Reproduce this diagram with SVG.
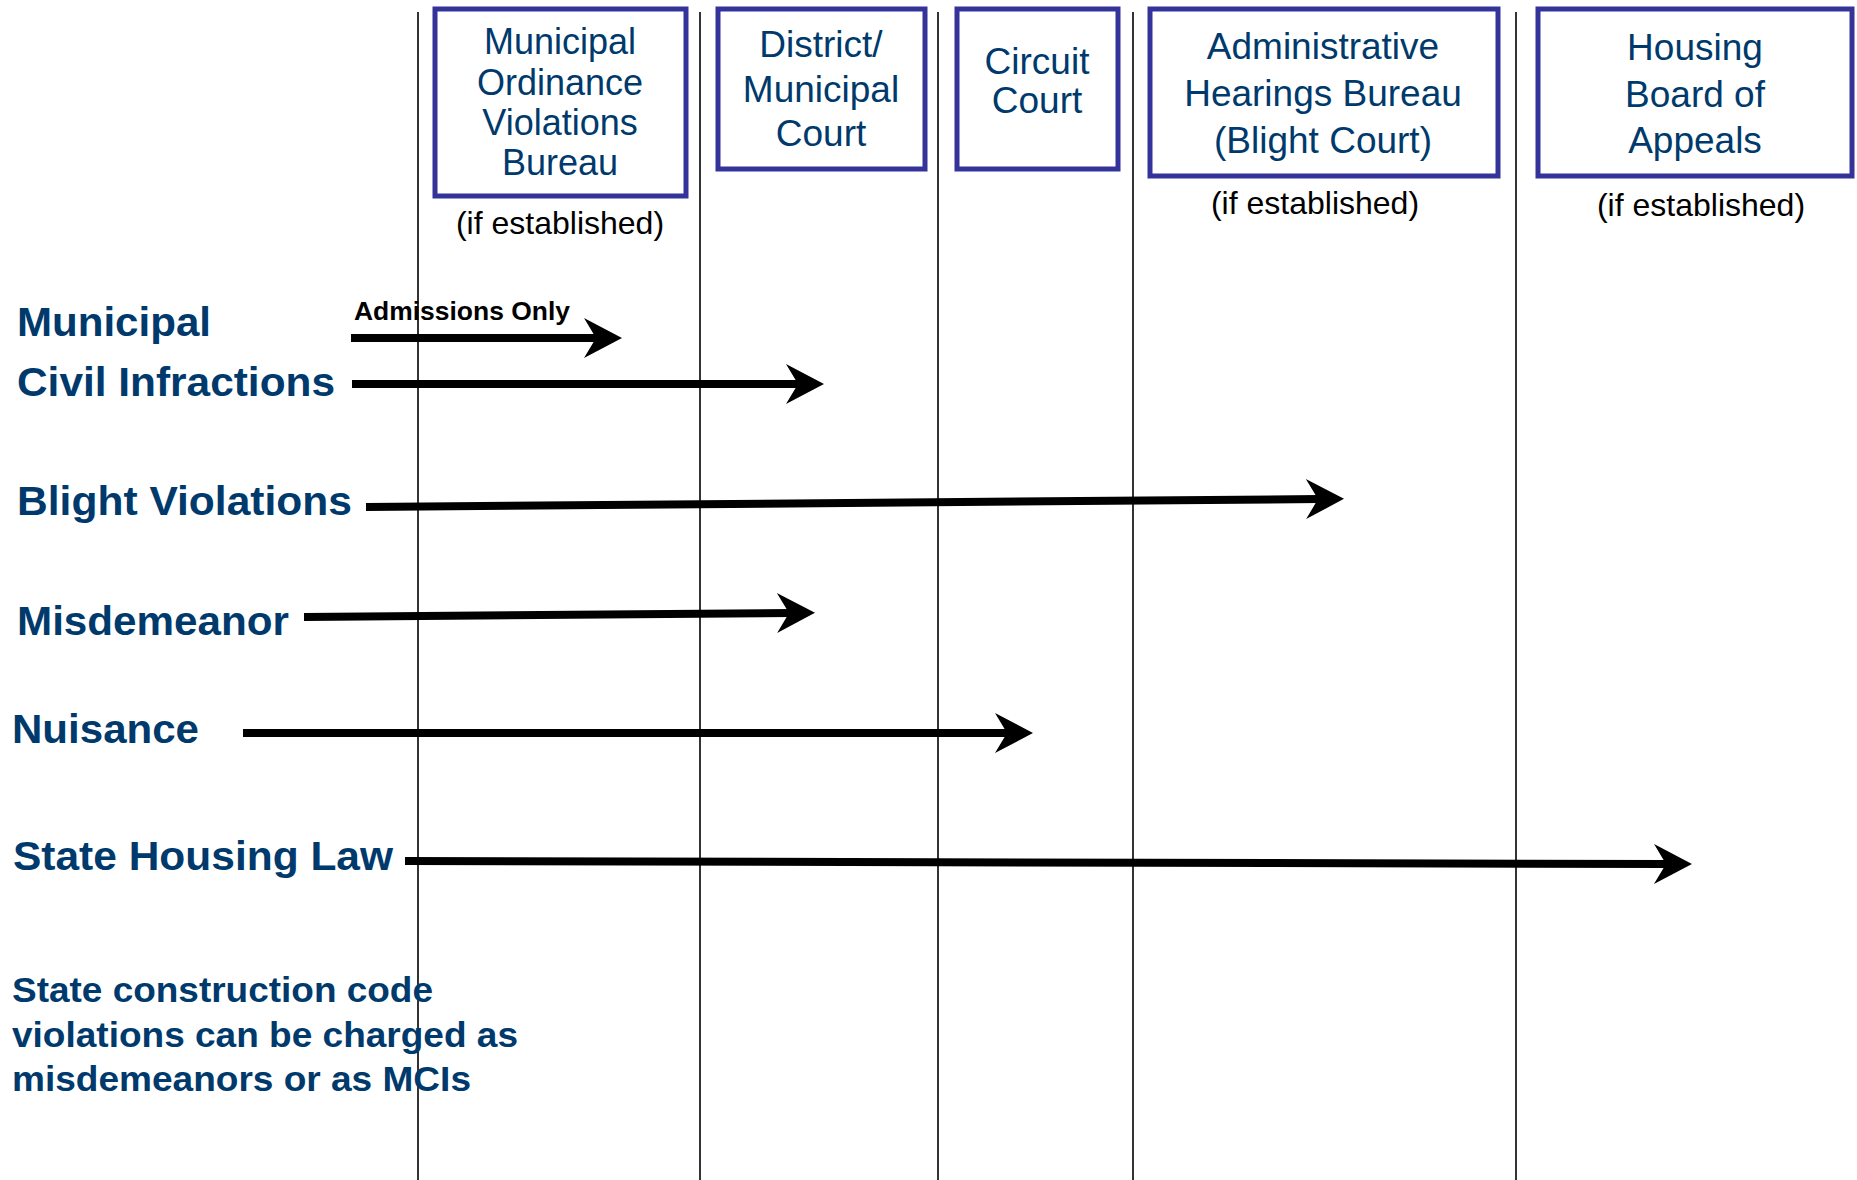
<svg xmlns="http://www.w3.org/2000/svg" width="1857" height="1180" viewBox="0 0 1857 1180">
<style>
.bg{fill:#ffffff}
.col{stroke:#000000;stroke-width:1.6;fill:none}
.box{fill:#ffffff;stroke:#333399;stroke-width:5}
.bt{font-family:"Liberation Sans",Arial,sans-serif;font-size:37px;fill:#003a6c;text-anchor:middle}
.note{font-family:"Liberation Sans",Arial,sans-serif;font-size:32px;fill:#000000;text-anchor:middle}
.lbl{font-family:"Liberation Sans",Arial,sans-serif;font-weight:bold;font-size:41px;fill:#003a6c}
.sm{font-size:35px}
.arr{stroke:#000000;stroke-width:8;fill:none;marker-end:url(#ah)}
.adm{font-family:"Liberation Sans",Arial,sans-serif;font-weight:bold;font-size:25px;fill:#000000}
</style>
<defs>
<marker id="ah" markerUnits="userSpaceOnUse" markerWidth="44" markerHeight="44" viewBox="-40 -22 44 44" refX="-24" refY="0" orient="auto" overflow="visible">
<path d="M0,0 L-38,-20 L-26,0 L-38,20 Z" fill="#000000"/>
</marker>
</defs>
<rect class="bg" x="0" y="0" width="1857" height="1180"/>
<g id="columns">
<line class="col" x1="418" y1="12" x2="418" y2="1180"/>
<line class="col" x1="700" y1="12" x2="700" y2="1180"/>
<line class="col" x1="938" y1="12" x2="938" y2="1180"/>
<line class="col" x1="1133" y1="12" x2="1133" y2="1180"/>
<line class="col" x1="1516" y1="12" x2="1516" y2="1180"/>
</g>
<g id="node-movb">
<rect class="box" x="435" y="9" width="251" height="187"/>
<text class="bt" x="560" y="54" style="font-size:36px">Municipal</text>
<text class="bt" x="560" y="95" style="font-size:36px">Ordinance</text>
<text class="bt" x="560" y="135" style="font-size:36px">Violations</text>
<text class="bt" x="560" y="175" style="font-size:36px">Bureau</text>
<text class="note" x="560" y="234">(if established)</text>
</g>
<g id="node-district">
<rect class="box" x="718" y="9" width="207" height="160"/>
<text class="bt" x="821" y="57">District/</text>
<text class="bt" x="821" y="102">Municipal</text>
<text class="bt" x="821" y="146">Court</text>
</g>
<g id="node-circuit">
<rect class="box" x="957" y="9" width="161" height="160"/>
<text class="bt" x="1037" y="74">Circuit</text>
<text class="bt" x="1037" y="113">Court</text>
</g>
<g id="node-ahb">
<rect class="box" x="1150" y="9" width="348" height="167"/>
<text class="bt" x="1323" y="59">Administrative</text>
<text class="bt" x="1323" y="106">Hearings Bureau</text>
<text class="bt" x="1323" y="153">(Blight Court)</text>
<text class="note" x="1315" y="214">(if established)</text>
</g>
<g id="node-hba">
<rect class="box" x="1538" y="9" width="314" height="167"/>
<text class="bt" x="1695" y="60">Housing</text>
<text class="bt" x="1695" y="107">Board of</text>
<text class="bt" x="1695" y="153">Appeals</text>
<text class="note" x="1701" y="216">(if established)</text>
</g>
<g id="node-mci">
<text class="lbl" x="17" y="336" textLength="194" lengthAdjust="spacingAndGlyphs">Municipal</text>
<text class="lbl" x="17" y="396" textLength="318" lengthAdjust="spacingAndGlyphs">Civil Infractions</text>
</g>
<g id="node-blight">
<text class="lbl" x="17" y="515" textLength="335" lengthAdjust="spacingAndGlyphs">Blight Violations</text>
</g>
<g id="node-misd">
<text class="lbl" x="17" y="635" textLength="272" lengthAdjust="spacingAndGlyphs">Misdemeanor</text>
</g>
<g id="node-nuisance">
<text class="lbl" x="12" y="743" textLength="187" lengthAdjust="spacingAndGlyphs">Nuisance</text>
</g>
<g id="node-shl">
<text class="lbl" x="13" y="870" textLength="380" lengthAdjust="spacingAndGlyphs">State Housing Law</text>
</g>
<g id="node-note">
<text class="lbl sm" x="12" y="1002" textLength="421" lengthAdjust="spacingAndGlyphs">State construction code</text>
<text class="lbl sm" x="12" y="1047" textLength="506" lengthAdjust="spacingAndGlyphs">violations can be charged as</text>
<text class="lbl sm" x="12" y="1091" textLength="459" lengthAdjust="spacingAndGlyphs">misdemeanors or as MCIs</text>
</g>
<g id="connectors">
<text class="adm" x="354" y="320" textLength="216" lengthAdjust="spacingAndGlyphs">Admissions Only</text>
<line class="arr" x1="351" y1="338" x2="598" y2="338"/>
<line class="arr" x1="352" y1="384" x2="800" y2="384"/>
<line class="arr" x1="366" y1="507" x2="1320" y2="499"/>
<line class="arr" x1="304" y1="617" x2="791" y2="613"/>
<line class="arr" x1="243" y1="733" x2="1009" y2="733"/>
<line class="arr" x1="405" y1="861" x2="1668" y2="864"/>
</g>
</svg>
